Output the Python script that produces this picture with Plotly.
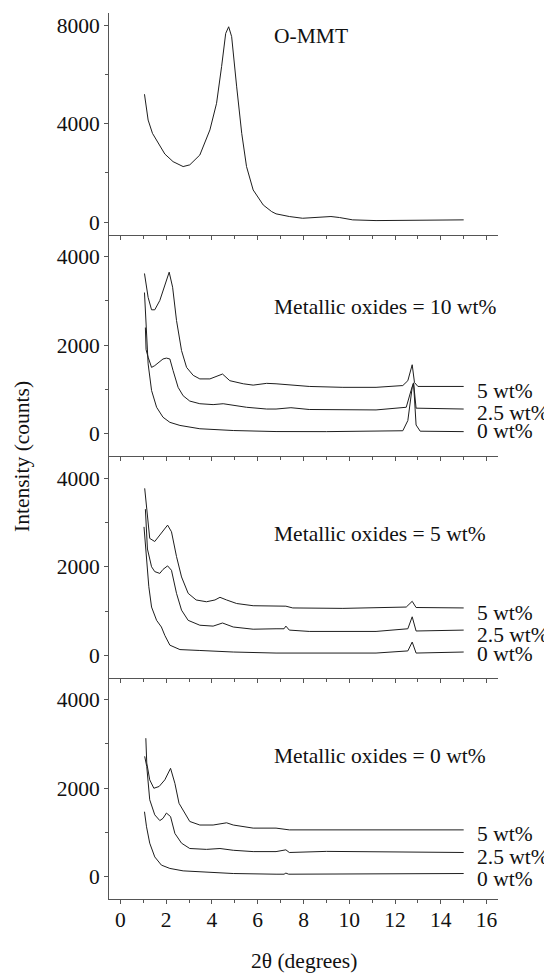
import plotly.graph_objects as go
from plotly.subplots import make_subplots

# ---------------- data ----------------
ommt_x = [1.05, 1.21, 1.40, 1.65, 1.94, 2.30, 2.74, 3.03, 3.47, 3.91, 4.20, 4.42, 4.60, 4.73, 4.86,
          5.08, 5.30, 5.51, 5.80, 6.24, 6.61, 6.80, 7.38, 7.96, 8.98, 9.20, 9.57, 10.15, 11.17, 12.63, 14.09, 15.0]
ommt_y = [5200, 4150, 3610, 3210, 2770, 2460, 2260, 2330, 2730, 3750, 4830, 6320, 7670, 7940, 7540,
          5500, 3610, 2260, 1310, 700, 430, 340, 230, 160, 200, 230, 190, 95, 65, 65, 90, 95]

# Metallic oxides = 10 wt%
m10_5_x = [1.05, 1.21, 1.36, 1.50, 1.72, 1.94, 2.13, 2.28, 2.45, 2.67, 2.89, 3.18, 3.47, 3.91, 4.20, 4.46,
           4.78, 5.37, 5.80, 6.39, 6.80, 7.38, 8.25, 9.72, 11.17, 12.34, 12.56, 12.75, 12.85, 13.0, 14.09, 15.0]
m10_5_y = [3620, 3080, 2800, 2800, 3010, 3350, 3650, 3310, 2560, 1880, 1500, 1320, 1240, 1240, 1300, 1350,
           1200, 1130, 1100, 1140, 1130, 1110, 1070, 1050, 1050, 1090, 1200, 1560, 1160, 1070, 1070, 1070]
m10_25_x = [1.09, 1.12, 1.21, 1.36, 1.50, 1.72, 1.86, 2.01, 2.16, 2.30, 2.52, 2.74, 3.03, 3.47, 4.05, 4.49,
            4.93, 5.51, 6.39, 6.80, 7.45, 8.25, 11.17, 12.49, 12.70, 12.81, 12.92, 15.0]
m10_25_y = [2400, 1900, 1730, 1500, 1540, 1620, 1690, 1710, 1690, 1430, 1050, 860, 740, 680, 660, 680,
            640, 600, 560, 560, 590, 550, 540, 600, 980, 1150, 580, 560]
m10_0_x = [1.05, 1.14, 1.21, 1.36, 1.58, 1.86, 2.16, 2.60, 3.47, 4.93, 6.80, 9.0, 12.34, 12.56, 12.75,
           12.81, 12.92, 13.1, 15.0]
m10_0_y = [3190, 2330, 1580, 980, 600, 375, 260, 190, 115, 75, 52, 50, 70, 300, 1050, 1150, 200, 60, 50]

# Metallic oxides = 5 wt%
m5_5_x = [1.06, 1.18, 1.28, 1.50, 1.72, 1.94, 2.06, 2.23, 2.45, 2.67, 2.96, 3.31, 3.76, 4.13, 4.35, 4.64,
          5.08, 5.80, 6.80, 7.23, 7.53, 9.72, 12.49, 12.75, 12.92, 15.0]
m5_5_y = [3770, 3060, 2640, 2570, 2720, 2870, 2940, 2790, 2230, 1770, 1400, 1250, 1210, 1250, 1310, 1250,
          1170, 1120, 1120, 1110, 1070, 1060, 1090, 1220, 1080, 1070]
m5_25_x = [1.09, 1.18, 1.36, 1.50, 1.72, 1.86, 2.06, 2.23, 2.45, 2.67, 2.96, 3.47, 4.05, 4.46, 4.93, 5.80,
           6.80, 7.15, 7.23, 7.38, 8.25, 11.17, 12.56, 12.75, 12.92, 15.0]
m5_25_y = [3300, 2400, 2000, 1890, 1850, 1940, 2020, 1920, 1400, 1020, 790, 680, 660, 730, 640, 590,
           600, 600, 660, 570, 540, 540, 600, 870, 550, 570]
m5_0_x = [1.03, 1.14, 1.24, 1.36, 1.58, 1.79, 1.94, 2.16, 2.60, 3.47, 4.93, 6.80, 11.17, 12.56, 12.75,
          12.92, 15.0]
m5_0_y = [2900, 2230, 1550, 1090, 790, 640, 450, 230, 130, 110, 75, 52, 52, 100, 300, 52, 75]

# Metallic oxides = 0 wt%
m0_5_x = [1.11, 1.15, 1.28, 1.46, 1.69, 1.94, 2.19, 2.38, 2.56, 2.81, 3.03, 3.47, 4.05, 4.64, 4.93, 5.80,
          6.80, 7.38, 11.17, 15.0]
m0_5_y = [3130, 2570, 2190, 2000, 2040, 2190, 2450, 2110, 1660, 1440, 1250, 1170, 1170, 1220, 1170, 1100,
          1100, 1060, 1060, 1060]
m0_25_x = [1.06, 1.15, 1.28, 1.50, 1.72, 1.86, 2.01, 2.19, 2.38, 2.67, 3.03, 3.76, 4.35, 4.93, 5.80, 6.80,
           7.23, 7.38, 9.0, 15.0]
m0_25_y = [2720, 2490, 1740, 1400, 1270, 1320, 1440, 1360, 980, 760, 640, 620, 640, 600, 570, 570,
           610, 550, 575, 550]
m0_0_x = [1.05, 1.14, 1.28, 1.50, 1.79, 2.16, 2.74, 3.47, 4.93, 6.80, 7.15, 7.23, 7.35, 15.0]
m0_0_y = [1470, 1130, 760, 450, 265, 190, 135, 110, 75, 60, 60, 85, 60, 75]

panel_titles = ["O-MMT", "Metallic oxides = 10 wt%", "Metallic oxides = 5 wt%", "Metallic oxides = 0 wt%"]
panel_title_y = [7560, 2860, 2740, 2720]
series_labels = ["5 wt%", "2.5 wt%", "0 wt%"]
label_y = [[977, 480, 59], [967, 453, 23], [966, 438, -52]]

y_ranges = [[-500, 8500], [-500, 4500], [-500, 4500], [-500, 4500]]
y_dticks = [4000, 2000, 2000, 2000]
x_ticks = list(range(0, 17, 2))

# ---------------- figure ----------------
FONT = "Liberation Serif"
FS = 21.5
LINE = dict(color="#1e1e1e", width=1)
AX = "#555555"

fig = make_subplots(rows=4, cols=1, shared_xaxes=True, vertical_spacing=0)

fig.add_trace(go.Scatter(x=ommt_x, y=ommt_y, mode="lines", line=LINE), row=1, col=1)
panels = [
    [(m10_5_x, m10_5_y), (m10_25_x, m10_25_y), (m10_0_x, m10_0_y)],
    [(m5_5_x, m5_5_y), (m5_25_x, m5_25_y), (m5_0_x, m5_0_y)],
    [(m0_5_x, m0_5_y), (m0_25_x, m0_25_y), (m0_0_x, m0_0_y)],
]
for i, curves in enumerate(panels):
    for cx, cy in curves:
        fig.add_trace(go.Scatter(x=cx, y=cy, mode="lines", line=LINE), row=i + 2, col=1)

for r in range(1, 5):
    fig.update_xaxes(
        range=[-0.5, 16.5], showline=True, linecolor=AX, linewidth=1,
        ticks="outside", ticklen=4, tickcolor=AX, tickvals=x_ticks,
        minor=dict(ticks="outside", ticklen=3, tickcolor=AX, dtick=1, tick0=0),
        showgrid=False, zeroline=False, ticklabelstandoff=-3,
        tickfont=dict(family=FONT, size=FS, color="#111"),
        row=r, col=1)
    fig.update_yaxes(
        range=y_ranges[r - 1], showline=True, linecolor=AX, linewidth=1,
        ticks="outside", ticklen=4, tickcolor=AX, dtick=y_dticks[r - 1], tick0=0,
        minor=dict(ticks="outside", ticklen=3, tickcolor=AX, dtick=y_dticks[r - 1] / 2, tick0=0),
        showgrid=False, zeroline=False,
        tickfont=dict(family=FONT, size=FS, color="#111"),
        row=r, col=1)

annotations = []
yrefs = ["y", "y2", "y3", "y4"]
for i, t in enumerate(panel_titles):
    annotations.append(dict(x=6.63, y=panel_title_y[i], xref="x", yref=yrefs[i], text=t,
                            showarrow=False, xanchor="left", yanchor="middle",
                            font=dict(family=FONT, size=FS, color="#111")))
for i in range(3):
    for j, lab in enumerate(series_labels):
        annotations.append(dict(x=15.5, y=label_y[i][j], xref="x", yref=yrefs[i + 1], text=lab,
                                showarrow=False, xanchor="left", yanchor="middle",
                                font=dict(family=FONT, size=FS, color="#111")))
annotations.append(dict(x=0.5, y=-0.0700, xref="paper", yref="paper", text="2θ (degrees)",
                        showarrow=False, xanchor="center", yanchor="middle",
                        font=dict(family=FONT, size=FS, color="#111")))
annotations.append(dict(x=-0.2237, y=0.5, xref="paper", yref="paper", text="Intensity (counts)",
                        showarrow=False, xanchor="center", yanchor="middle", textangle=-90,
                        font=dict(family=FONT, size=FS, color="#111")))

# the page body has an 8px default margin; size the figure so the plot area lands where the reference has it
fig.update_layout(
    width=544, height=967,
    margin=dict(l=101, r=54, t=5, b=76, autoexpand=False),
    plot_bgcolor="white", paper_bgcolor="white",
    showlegend=False,
    annotations=annotations,
    font=dict(family=FONT, size=FS, color="#111"),
)

fig.write_html("out.html")
